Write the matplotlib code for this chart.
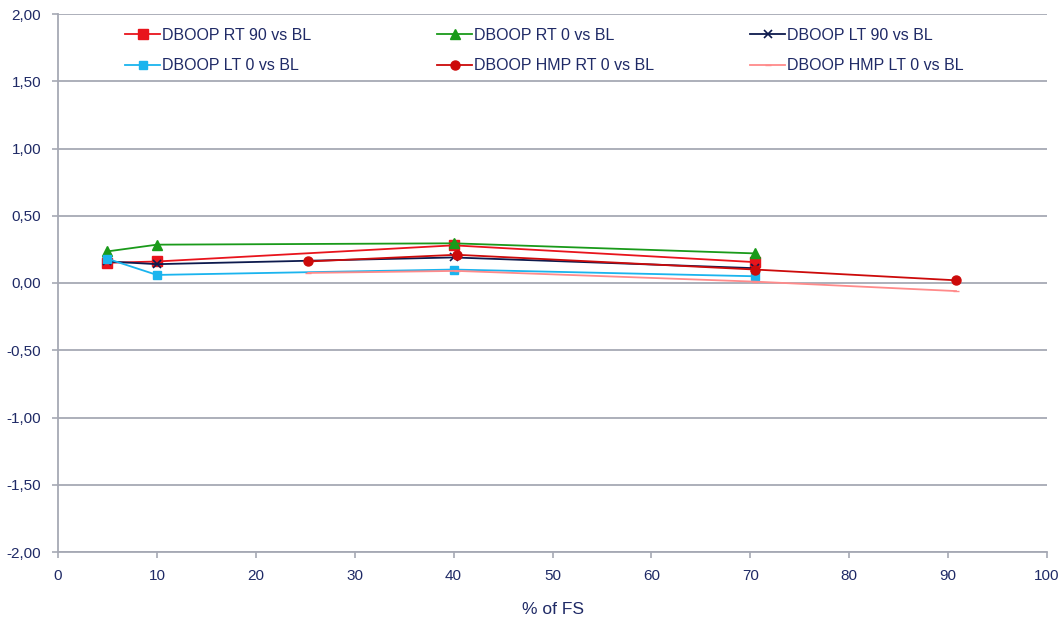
import matplotlib
matplotlib.use("Agg")
import matplotlib.pyplot as plt
from matplotlib.ticker import FuncFormatter, MultipleLocator

plt.rcParams['font.family'] = ['Liberation Sans', 'DejaVu Sans']

x_main = [5, 10, 40, 70.5]
rt90 = [0.15, 0.16, 0.28, 0.155]
rt0 = [0.235, 0.285, 0.295, 0.22]
lt90 = [0.16, 0.14, 0.19, 0.11]
lt0 = [0.18, 0.06, 0.10, 0.05]
x_hmp = [25.3, 40.3, 70.5, 90.8]
hmp_rt0 = [0.16, 0.21, 0.10, 0.02]
hmp_lt0 = [0.075, 0.09, 0.01, -0.06]

labels = ["DBOOP RT 90 vs BL", "DBOOP RT 0 vs BL", "DBOOP LT 90 vs BL",
          "DBOOP LT 0 vs BL", "DBOOP HMP RT 0 vs BL", "DBOOP HMP LT 0 vs BL"]

TXT = '#1f2a66'
GRID = '#a6a9b4'

fig = plt.figure(figsize=(10.64, 6.23), dpi=100)
ax = fig.add_axes([58/1064, 1-552/623, (1047-58)/1064, (552-14)/623])

h = []
h += ax.plot(x_main, rt90, color='#e8141c', marker='s', ms=6.5, lw=1.3, label=labels[0])
h += ax.plot(x_main, rt0, color='#1a9a1a', marker='^', ms=6.5, lw=1.3, label=labels[1])
h += ax.plot(x_main, lt90, color='#0d1a4d', marker='x', ms=6, mew=1.2, lw=1.3, label=labels[2])
h += ax.plot(x_main, lt0, color='#1ab4ee', marker='s', ms=5.5, lw=1.3, label=labels[3])
h += ax.plot(x_hmp, hmp_rt0, color='#cc0a0a', marker='o', ms=6.5, lw=1.3, label=labels[4])
h += ax.plot(x_hmp, hmp_lt0, color='#ff8a8a', marker='_', ms=4, lw=1.3, label=labels[5])

ax.set_xlim(0, 100)
ax.set_ylim(-2, 2)
ax.xaxis.set_major_locator(MultipleLocator(10))
ax.yaxis.set_major_locator(MultipleLocator(0.5))
ax.yaxis.set_major_formatter(FuncFormatter(lambda v, p: f"{v:.2f}".replace('.', ',')))
ax.grid(axis='y', color=GRID, lw=1.3)
ax.set_axisbelow(True)
for s in ['top', 'right']:
    ax.spines[s].set_visible(False)
for s in ['left', 'bottom']:
    ax.spines[s].set_color(GRID)
    ax.spines[s].set_linewidth(1.3)
ax.tick_params(colors=GRID, labelcolor=TXT, labelsize=11, length=4, width=1.2)
ax.tick_params(axis='x', pad=8)
ax.tick_params(axis='y', pad=8)
ax.set_xlabel("% of FS", fontsize=12.5, color=TXT, labelpad=14)

col_x = [125, 437, 750]
for c in range(3):
    lg = fig.legend([h[c], h[c + 3]], [labels[c], labels[c + 3]],
                    loc='upper left', bbox_to_anchor=(col_x[c] / 1064, 1 - 28 / 623),
                    frameon=False, fontsize=11.5, borderpad=0, borderaxespad=0,
                    handlelength=2.2, handletextpad=0.1, labelspacing=0.95,
                    labelcolor=TXT)

fig.savefig("out.png", dpi=100)
